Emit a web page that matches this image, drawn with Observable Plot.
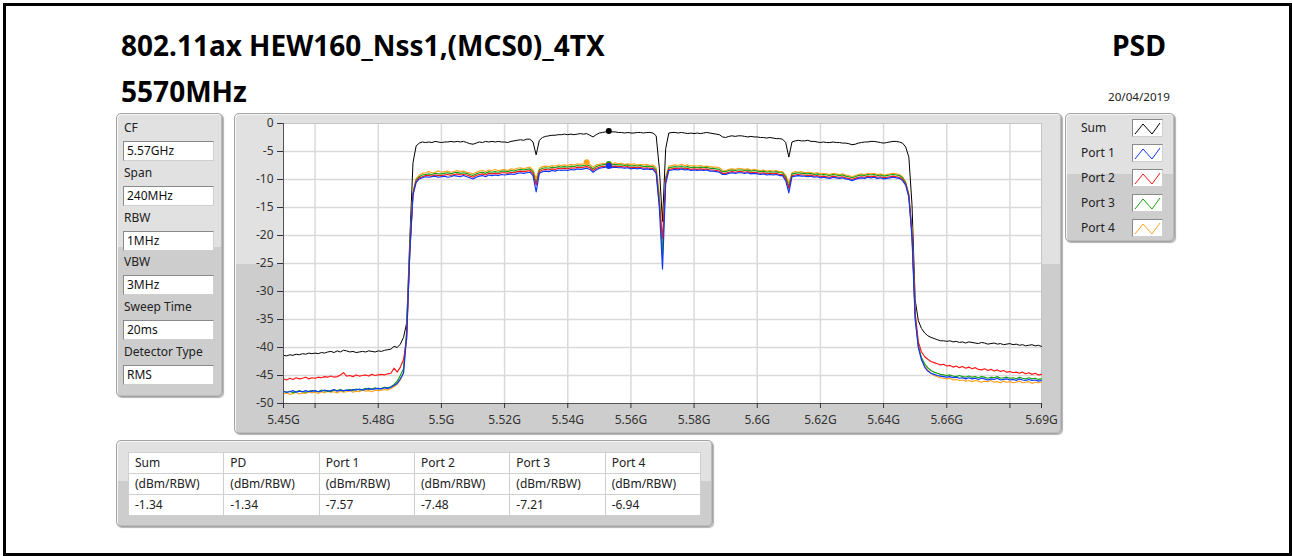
<!DOCTYPE html>
<html><head><meta charset="utf-8">
<script src="https://cdn.jsdelivr.net/npm/d3@7"></script>
<script src="https://cdn.jsdelivr.net/npm/@observablehq/plot@0.6"></script>
<style>
html,body{margin:0;padding:0;background:#fff;}
body{width:1292px;height:556px;position:relative;overflow:hidden;font-family:"Noto Sans",sans-serif;color:#1a1a1a;}
#frame{position:absolute;left:3px;top:3px;width:1289px;height:553px;border:3px solid #000;box-sizing:border-box;}
.panel{position:absolute;box-sizing:border-box;border:1px solid #a3a3a3;border-radius:5px;
  background:linear-gradient(#e1e1e1 0,#e1e1e1 47%,#cdcdcd 47%,#cdcdcd 100%);
  box-shadow:inset 1px 1px 0 #f6f6f6, inset -1px -1px 0 #bbbbbb, 1px 1px 1px rgba(0,0,0,0.3);}
.txt{position:absolute;white-space:nowrap;}
.lbl{position:absolute;font-size:12px;line-height:16px;white-space:nowrap;color:#222;}
.box{position:absolute;box-sizing:border-box;background:#fff;border:1px solid #8a8a8a;border-right-color:#cfcfcf;border-bottom-color:#cfcfcf;font-size:12px;line-height:18px;padding-left:3px;color:#111;white-space:nowrap;}
table.res{position:absolute;border-collapse:collapse;background:#fff;font-size:12px;color:#222;}
table.res td{border:1px solid #cfcfcf;padding:0 0 0 6px;height:20px;line-height:20px;white-space:nowrap;}
</style></head>
<body>
<div id="frame"></div>
<div id="root"></div>
<script>
// ---------------- DATA ----------------
const titleLine1 = "802.11ax HEW160_Nss1,(MCS0)_4TX";
const titleLine2 = "5570MHz";
const titleRight = "PSD";
const dateText = "20/04/2019";

const settingLabels = ["CF", "Span", "RBW", "VBW", "Sweep Time", "Detector Type"];
const settingValues = ["5.57GHz", "240MHz", "1MHz", "3MHz", "20ms", "RMS"];

const tableHeaders = ["Sum", "PD", "Port 1", "Port 2", "Port 3", "Port 4"];
const tableUnits = ["(dBm/RBW)", "(dBm/RBW)", "(dBm/RBW)", "(dBm/RBW)", "(dBm/RBW)", "(dBm/RBW)"];
const tableValues = ["-1.34", "-1.34", "-7.57", "-7.48", "-7.21", "-6.94"];

const seriesNames = ["Sum", "Port 1", "Port 2", "Port 3", "Port 4"];
const seriesColors = ["#000000", "#0b34ff", "#ff1414", "#14a014", "#ffa21e"];

const xTicks = [5.45, 5.46, 5.48, 5.50, 5.52, 5.54, 5.56, 5.58, 5.60, 5.62, 5.64, 5.66, 5.68, 5.69];
const xTickLabels = ["5.45G", "", "5.48G", "5.5G", "5.52G", "5.54G", "5.56G", "5.58G", "5.6G", "5.62G", "5.64G", "5.66G", "", "5.69G"];
const yTicks = [0, -5, -10, -15, -20, -25, -30, -35, -40, -45, -50];

// sweep: 5.45 GHz .. 5.69 GHz, one point per MHz (241 points)
const freqStartGHz = 5.45;
const freqStepGHz = 0.001;

const sumPSD = [
-41.4,-41.5,-41.3,-41.4,-41.2,-41.3,-41.1,-41.2,-41.0,-41.1,
-41.0,-41.1,-40.9,-41.0,-40.8,-40.7,-40.9,-40.6,-40.8,-40.5,
-40.6,-40.8,-40.7,-40.9,-40.8,-40.7,-40.8,-40.6,-40.7,-40.8,
-40.6,-40.7,-40.5,-40.4,-40.3,-39.8,-40.0,-39.4,-38.2,-35.6,
-20.5,-7.0,-4.0,-3.5,-3.3,-3.4,-3.3,-3.4,-3.2,-3.3,
-3.4,-3.3,-3.3,-3.2,-3.3,-3.2,-3.3,-3.2,-3.4,-3.6,
-3.7,-3.5,-3.3,-3.4,-3.2,-3.3,-3.2,-3.3,-3.2,-3.3,
-3.3,-3.4,-3.2,-3.1,-3.0,-2.9,-3.0,-2.8,-2.8,-3.3,
-5.6,-3.0,-2.5,-2.3,-2.2,-2.1,-2.1,-2.0,-2.0,-1.9,
-2.0,-1.9,-2.0,-1.9,-1.8,-1.9,-1.8,-2.1,-2.4,-2.0,
-1.7,-1.6,-1.5,-1.34,-1.5,-1.5,-1.6,-1.6,-1.7,-1.6,
-1.7,-1.7,-1.6,-1.6,-1.7,-1.6,-1.6,-1.7,-2.2,-8.0,
-17.5,-4.5,-1.7,-1.6,-1.6,-1.7,-1.6,-1.7,-1.8,-1.7,
-1.8,-1.7,-1.8,-1.7,-1.6,-1.7,-1.8,-1.9,-2.0,-2.4,
-2.5,-2.3,-2.2,-2.3,-2.2,-2.2,-2.3,-2.4,-2.3,-2.4,
-2.4,-2.5,-2.5,-2.6,-2.5,-2.6,-2.7,-2.7,-2.8,-3.4,
-6.0,-3.3,-3.1,-3.0,-3.1,-3.1,-3.0,-3.2,-3.2,-3.3,
-3.4,-3.3,-3.4,-3.4,-3.3,-3.4,-3.4,-3.5,-3.5,-3.6,
-3.8,-3.7,-3.5,-3.4,-3.3,-3.3,-3.2,-3.2,-3.3,-3.4,
-3.5,-3.4,-3.3,-3.2,-3.2,-3.3,-3.5,-4.2,-6.0,-14.5,
-31.5,-35.2,-36.6,-37.4,-37.9,-38.2,-38.4,-38.6,-38.8,-38.8,
-38.9,-38.8,-39.0,-38.9,-39.1,-39.0,-39.2,-39.0,-39.1,-39.2,
-39.3,-39.1,-39.2,-39.4,-39.3,-39.2,-39.4,-39.3,-39.5,-39.4,
-39.3,-39.5,-39.4,-39.6,-39.5,-39.7,-39.6,-39.5,-39.7,-39.6,-39.8
];

const port1PSD = [
-47.8,-48.0,-47.9,-47.7,-48.0,-47.8,-47.9,-47.7,-47.9,-47.8,
-47.7,-47.9,-47.8,-47.6,-47.8,-47.7,-47.5,-47.8,-47.6,-47.7,
-47.6,-47.7,-47.5,-47.6,-47.4,-47.6,-47.5,-47.3,-47.5,-47.4,
-47.3,-47.4,-47.2,-47.3,-47.1,-46.8,-46.4,-45.6,-44.6,-38.0,
-23.0,-12.8,-10.5,-9.9,-9.7,-9.5,-9.6,-9.5,-9.4,-9.6,
-9.5,-9.4,-9.6,-9.5,-9.3,-9.4,-9.5,-9.3,-9.5,-9.7,
-9.9,-9.6,-9.4,-9.3,-9.5,-9.2,-9.3,-9.2,-9.3,-9.1,
-9.2,-9.1,-9.0,-9.1,-8.9,-8.8,-8.9,-8.8,-8.7,-9.3,
-12.2,-8.9,-8.6,-8.5,-8.6,-8.4,-8.5,-8.3,-8.4,-8.3,
-8.4,-8.2,-8.3,-8.1,-8.2,-8.1,-8.0,-8.2,-8.7,-8.3,
-8.0,-7.9,-7.8,-7.57,-7.9,-7.8,-7.9,-7.9,-8.0,-7.9,
-8.1,-8.0,-8.1,-8.0,-8.2,-8.1,-8.2,-8.2,-8.9,-15.0,
-26.0,-10.8,-8.4,-8.3,-8.2,-8.3,-8.1,-8.3,-8.2,-8.4,
-8.3,-8.4,-8.3,-8.4,-8.3,-8.5,-8.5,-8.6,-8.7,-9.1,
-9.1,-8.9,-8.8,-8.9,-8.8,-8.8,-8.9,-8.8,-9.0,-8.9,
-9.0,-9.1,-9.0,-9.2,-9.1,-9.2,-9.1,-9.3,-9.3,-10.2,
-12.4,-9.5,-9.4,-9.3,-9.4,-9.4,-9.5,-9.4,-9.6,-9.5,
-9.7,-9.6,-9.7,-9.8,-9.6,-9.7,-9.8,-9.7,-9.9,-10.0,
-10.2,-10.0,-9.8,-9.7,-9.8,-9.6,-9.7,-9.6,-9.8,-9.7,
-9.9,-9.8,-9.7,-9.6,-9.7,-9.8,-10.2,-11.0,-13.2,-20.5,
-35.0,-40.0,-42.2,-43.5,-44.2,-44.6,-44.8,-45.0,-45.1,-45.2,
-45.3,-45.2,-45.4,-45.3,-45.5,-45.4,-45.6,-45.4,-45.6,-45.5,
-45.7,-45.5,-45.6,-45.8,-45.6,-45.7,-45.5,-45.8,-45.7,-45.6,
-45.8,-45.7,-45.9,-45.6,-45.8,-45.9,-45.7,-45.9,-45.8,-46.0,-45.9
];

const port2PSD = [
-45.6,-45.8,-45.5,-45.7,-45.4,-45.6,-45.5,-45.3,-45.6,-45.4,
-45.5,-45.3,-45.4,-45.2,-45.3,-45.1,-45.3,-45.2,-44.9,-44.5,
-45.1,-45.0,-45.2,-44.9,-45.1,-45.0,-44.9,-45.1,-44.8,-45.0,
-44.9,-44.8,-44.9,-44.7,-44.6,-43.7,-44.4,-43.5,-42.2,-38.5,
-22.8,-12.6,-10.3,-9.7,-9.5,-9.3,-9.3,-9.4,-9.2,-9.3,
-9.3,-9.2,-9.1,-9.3,-9.1,-9.0,-9.2,-9.1,-9.2,-9.4,
-9.6,-9.3,-9.1,-9.0,-9.2,-8.9,-9.0,-8.9,-9.0,-8.8,
-8.8,-8.9,-8.7,-8.8,-8.6,-8.5,-8.6,-8.5,-8.4,-8.9,
-11.0,-8.6,-8.3,-8.2,-8.3,-8.1,-8.2,-8.0,-8.1,-8.0,
-8.1,-7.9,-8.0,-7.8,-7.9,-7.8,-7.7,-7.9,-8.4,-8.0,
-7.8,-7.7,-7.6,-7.48,-7.7,-7.6,-7.7,-7.7,-7.8,-7.7,
-7.9,-7.8,-7.9,-7.8,-8.0,-7.9,-8.0,-8.0,-8.6,-14.5,
-20.5,-10.2,-8.2,-8.1,-8.0,-8.1,-7.9,-8.1,-8.0,-8.2,
-8.1,-8.2,-8.1,-8.2,-8.1,-8.3,-8.3,-8.4,-8.5,-8.9,
-8.9,-8.7,-8.6,-8.7,-8.6,-8.6,-8.7,-8.6,-8.8,-8.7,
-8.8,-8.9,-8.8,-9.0,-8.9,-9.0,-8.9,-9.1,-9.1,-9.8,
-11.6,-9.3,-9.2,-9.1,-9.2,-9.2,-9.3,-9.2,-9.4,-9.3,
-9.5,-9.4,-9.5,-9.6,-9.4,-9.5,-9.6,-9.5,-9.7,-9.8,
-10.0,-9.8,-9.6,-9.5,-9.6,-9.4,-9.5,-9.4,-9.6,-9.5,
-9.7,-9.6,-9.5,-9.4,-9.5,-9.6,-10.0,-10.8,-12.9,-19.8,
-34.0,-39.0,-40.8,-41.6,-42.1,-42.5,-42.7,-42.9,-43.1,-43.0,
-43.3,-43.2,-43.5,-43.3,-43.6,-43.4,-43.7,-43.5,-43.8,-43.6,
-43.9,-44.0,-43.8,-44.1,-43.9,-44.2,-44.0,-44.3,-44.1,-44.4,
-44.3,-44.5,-44.4,-44.6,-44.4,-44.7,-44.5,-44.8,-44.6,-44.9,-44.8
];

const port3PSD = [
-47.9,-48.0,-47.8,-48.1,-47.9,-47.7,-47.9,-48.0,-47.8,-47.7,
-47.8,-47.9,-47.6,-47.8,-47.7,-47.9,-47.6,-47.7,-47.5,-47.8,
-47.6,-47.5,-47.7,-47.4,-47.6,-47.5,-47.3,-47.5,-47.4,-47.2,
-47.4,-47.3,-47.1,-47.2,-47.0,-46.6,-46.0,-45.0,-43.8,-37.0,
-22.5,-12.4,-10.1,-9.5,-9.2,-9.1,-9.0,-9.1,-8.9,-9.0,
-9.0,-8.9,-8.8,-9.0,-8.8,-8.7,-8.9,-8.8,-8.9,-9.1,
-9.3,-9.0,-8.8,-8.7,-8.9,-8.6,-8.7,-8.6,-8.7,-8.5,
-8.5,-8.6,-8.4,-8.5,-8.3,-8.2,-8.3,-8.2,-8.1,-8.6,
-10.6,-8.3,-8.0,-7.9,-8.0,-7.8,-7.9,-7.7,-7.8,-7.7,
-7.8,-7.6,-7.7,-7.5,-7.6,-7.5,-7.4,-7.6,-8.1,-7.7,
-7.5,-7.4,-7.3,-7.21,-7.4,-7.3,-7.4,-7.4,-7.5,-7.4,
-7.6,-7.5,-7.6,-7.5,-7.7,-7.6,-7.7,-7.7,-8.3,-13.5,
-23.5,-9.8,-7.9,-7.8,-7.7,-7.8,-7.6,-7.8,-7.7,-7.9,
-7.8,-7.9,-7.8,-7.9,-7.8,-8.0,-8.0,-8.1,-8.2,-8.6,
-8.6,-8.4,-8.3,-8.4,-8.3,-8.3,-8.4,-8.3,-8.5,-8.4,
-8.5,-8.6,-8.5,-8.7,-8.6,-8.7,-8.6,-8.8,-8.8,-9.5,
-11.2,-9.0,-8.9,-8.8,-8.9,-8.9,-9.0,-8.9,-9.1,-9.0,
-9.2,-9.1,-9.2,-9.3,-9.1,-9.2,-9.3,-9.2,-9.4,-9.5,
-9.7,-9.5,-9.3,-9.2,-9.3,-9.1,-9.2,-9.1,-9.3,-9.2,
-9.4,-9.3,-9.2,-9.1,-9.2,-9.3,-9.7,-10.6,-12.8,-19.5,
-34.5,-39.8,-41.8,-42.9,-43.6,-44.1,-44.4,-44.6,-44.8,-44.9,
-45.0,-44.9,-45.1,-45.2,-45.0,-45.2,-45.3,-45.1,-45.3,-45.2,
-45.4,-45.2,-45.3,-45.5,-45.3,-45.4,-45.2,-45.5,-45.4,-45.3,
-45.5,-45.4,-45.6,-45.3,-45.5,-45.6,-45.4,-45.6,-45.5,-45.7,-45.6
];

const port4PSD = [
-48.3,-48.1,-48.4,-48.2,-48.0,-48.3,-48.1,-48.2,-47.9,-48.1,
-48.0,-48.2,-47.9,-48.1,-47.8,-48.0,-47.9,-48.1,-47.8,-48.0,
-47.9,-47.7,-48.0,-47.8,-47.9,-47.6,-47.8,-47.7,-47.9,-47.6,
-47.7,-47.6,-47.5,-47.6,-47.3,-47.0,-46.6,-45.8,-44.4,-37.5,
-22.0,-12.0,-9.8,-9.2,-8.9,-8.8,-8.6,-8.8,-8.7,-8.5,
-8.7,-8.6,-8.5,-8.7,-8.6,-8.4,-8.6,-8.5,-8.7,-8.8,
-9.0,-8.7,-8.5,-8.4,-8.6,-8.3,-8.4,-8.2,-8.4,-8.3,
-8.2,-8.4,-8.1,-8.2,-8.0,-7.9,-8.1,-7.9,-7.8,-8.3,
-9.8,-8.0,-7.7,-7.6,-7.7,-7.5,-7.6,-7.4,-7.5,-7.4,
-7.5,-7.3,-7.4,-7.2,-7.3,-7.2,-6.94,-7.3,-7.8,-7.4,
-7.3,-7.1,-7.2,-7.1,-7.2,-7.0,-7.2,-7.1,-7.3,-7.2,
-7.3,-7.2,-7.4,-7.3,-7.4,-7.3,-7.5,-7.4,-7.9,-12.5,
-22.0,-9.5,-7.6,-7.5,-7.4,-7.5,-7.3,-7.5,-7.4,-7.6,
-7.5,-7.6,-7.5,-7.7,-7.6,-7.7,-7.8,-7.8,-7.9,-8.3,
-8.4,-8.2,-8.1,-8.2,-8.0,-8.1,-8.2,-8.1,-8.3,-8.2,
-8.3,-8.4,-8.3,-8.5,-8.4,-8.5,-8.4,-8.6,-8.6,-9.2,
-10.6,-8.8,-8.6,-8.7,-8.6,-8.8,-8.7,-8.8,-8.9,-8.8,
-9.0,-8.9,-9.0,-9.1,-8.9,-9.0,-9.1,-9.0,-9.2,-9.3,
-9.5,-9.3,-9.1,-9.0,-9.1,-8.9,-9.0,-8.9,-9.1,-9.0,
-9.2,-9.1,-9.0,-8.9,-9.0,-9.1,-9.5,-10.4,-12.6,-19.0,
-34.0,-39.5,-42.0,-43.2,-44.0,-44.6,-45.0,-45.2,-45.4,-45.5,
-45.6,-45.5,-45.8,-45.7,-45.9,-45.8,-46.0,-45.9,-46.1,-45.9,
-46.0,-46.2,-46.0,-46.1,-45.9,-46.2,-46.1,-46.3,-46.0,-46.2,
-46.1,-46.3,-46.2,-46.0,-46.3,-46.2,-46.1,-46.4,-46.2,-46.3,-46.2
];

// ---------------- LAYOUT ----------------
const root = document.getElementById("root");
function el(tag, cls, style, text) {
  const e = document.createElement(tag);
  if (cls) e.className = cls;
  Object.assign(e.style, style || {});
  if (text != null) e.textContent = text;
  root.appendChild(e);
  return e;
}
function fitWidth(e, w) {
  const cur = e.getBoundingClientRect().width;
  const fs = parseFloat(getComputedStyle(e).fontSize);
  e.style.fontSize = (fs * w / cur) + "px";
}

// Titles
const t1 = el("div", "txt", {left: "121px", top: "29px", font: "bold 24px 'Noto Sans'", lineHeight: "32px", color: "#000"}, titleLine1);
fitWidth(t1, 484);
const t2 = el("div", "txt", {left: "121px", top: "75px", font: "bold 24px 'Noto Sans'", lineHeight: "32px", color: "#000"}, titleLine2);
fitWidth(t2, 126);
const t3 = el("div", "txt", {left: "1112px", top: "29px", font: "bold 24px 'Noto Sans'", lineHeight: "32px", color: "#000"}, titleRight);
fitWidth(t3, 54);
const t4 = el("div", "txt", {left: "1108px", top: "89px", font: "11px 'Noto Sans'", lineHeight: "16px", color: "#222"}, dateText);
fitWidth(t4, 62);

// Left settings panel
el("div", "panel", {left: "116px", top: "113px", width: "107px", height: "284px"});
settingLabels.forEach((lab, i) => {
  const cy = 128 + i * 44.8;
  el("div", "lbl", {left: "124px", top: (cy - 8) + "px"}, lab);
  el("div", "box", {left: "123px", top: (cy + 13) + "px", width: "91px", height: "20px"}, settingValues[i]);
});

// Plot panel
el("div", "panel", {left: "234px", top: "113px", width: "828px", height: "321px"});

// Legend panel
el("div", "panel", {left: "1065px", top: "113px", width: "110px", height: "129px"});
seriesNames.forEach((name, i) => {
  const cy = 128 + i * 25;
  el("div", "lbl", {left: "1081px", top: (cy - 8) + "px"}, name);
  const sw = el("div", "", {position: "absolute", left: "1132px", top: (cy - 9) + "px", width: "31px", height: "18px",
    boxSizing: "border-box", background: "#fff", border: "1px solid #8a8a8a", borderRightColor: "#cfcfcf", borderBottomColor: "#cfcfcf"});
  sw.innerHTML = `<svg width="29" height="16" style="display:block"><polyline points="2,14 10,4 19,14 27,3" fill="none" stroke="${seriesColors[i]}" stroke-width="1"/></svg>`;
});

// Bottom table panel
el("div", "panel", {left: "116px", top: "440px", width: "597px", height: "87px"});
const tbl = el("table", "res", {left: "128px", top: "452px", width: "573px"});
[tableHeaders, tableUnits, tableValues].forEach(row => {
  const tr = document.createElement("tr");
  row.forEach(c => { const td = document.createElement("td"); td.textContent = c; td.style.width = "90px"; tr.appendChild(td); });
  tbl.appendChild(tr);
});

// ---------------- CHART ----------------
const seriesValues = [sumPSD, port1PSD, port2PSD, port3PSD, port4PSD];
const freq = sumPSD.map((_, i) => freqStartGHz + i * freqStepGHz);
const rows = [];
seriesNames.forEach((name, s) => seriesValues[s].forEach((v, i) => rows.push({series: name, f: freq[i], v})));
const drawOrder = ["Sum", "Port 4", "Port 3", "Port 2", "Port 1"];
const colorOf = Object.fromEntries(seriesNames.map((n, i) => [n, seriesColors[i]]));
const markers = drawOrder.map(name => {
  const vals = seriesValues[seriesNames.indexOf(name)];
  const k = d3.maxIndex(vals);
  return {series: name, f: freq[k], v: vals[k]};
});
const labelOf = new Map(xTicks.map((t, i) => [t.toFixed(3), xTickLabels[i]]));
const xGrid = xTicks.slice(1, -1);
const yGrid = yTicks.slice(1, -1);

const chart = Plot.plot({
  width: 828, height: 321,
  marginLeft: 49, marginRight: 21, marginTop: 10, marginBottom: 31,
  style: {background: "transparent", fontFamily: "'Noto Sans', sans-serif", fontSize: "12px", color: "#333", overflow: "visible"},
  x: {domain: [5.45, 5.69], label: null},
  y: {domain: [-50, 0], label: null},
  marks: [
    Plot.frame({fill: "#fff", stroke: "none"}),
    Plot.ruleX(xGrid, {stroke: "#dadada", strokeWidth: 1.5}),
    Plot.ruleY(yGrid, {stroke: "#dadada", strokeWidth: 1.5}),
    Plot.frame({stroke: "#c4c4c4"}),
    ...drawOrder.map(name => Plot.line(rows.filter(r => r.series === name), {x: "f", y: "v", stroke: colorOf[name], strokeWidth: name === "Sum" ? 1 : 1.15})),
    Plot.dot(markers, {x: "f", y: "v", fill: d => colorOf[d.series], r: 3, stroke: "none"}),
    Plot.ruleX([5.45], {stroke: "#555", strokeWidth: 1}),
    Plot.ruleY([-50], {stroke: "#555", strokeWidth: 1}),
    Plot.axisY({ticks: yTicks, tickSize: 6, tickPadding: 4, tickFormat: d => String(d), stroke: "#333", fill: "#333", label: null}),
    Plot.axisX({ticks: xTicks, tickSize: 5, tickPadding: 7, tickFormat: d => labelOf.get((+d).toFixed(3)) ?? "", stroke: "#333", fill: "#333", label: null})
  ]
});
chart.style.position = "absolute";
chart.style.left = "234px";
chart.style.top = "113px";
root.appendChild(chart);
</script>
</body></html>
